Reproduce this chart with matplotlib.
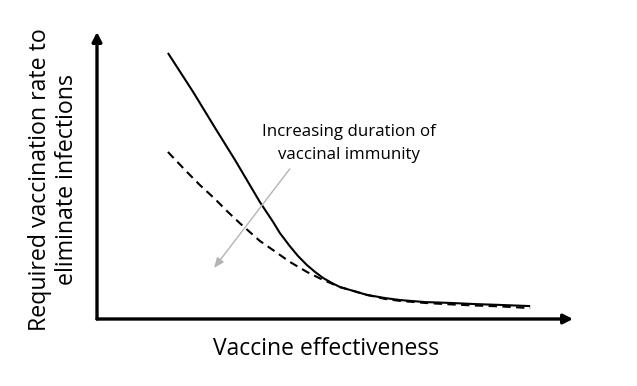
import numpy as np
import matplotlib
matplotlib.use("Agg")
import matplotlib.pyplot as plt

plt.rcParams['font.family'] = ['Open Sans', 'DejaVu Sans']

# curve shapes (fraction of axis length)
solid_x = [0.149, 0.202, 0.248, 0.290, 0.321, 0.342, 0.370, 0.384, 0.405, 0.422, 0.441, 0.458,
           0.475, 0.494, 0.511, 0.532, 0.567, 0.605, 0.637, 0.689, 0.742, 0.794, 0.847, 0.910]
solid_y = [0.927, 0.791, 0.666, 0.554, 0.467, 0.408, 0.338, 0.300, 0.254, 0.220, 0.188, 0.164,
           0.143, 0.125, 0.111, 0.101, 0.084, 0.073, 0.066, 0.059, 0.056, 0.052, 0.049, 0.045]
dash_x = [0.149, 0.185, 0.216, 0.248, 0.275, 0.300, 0.321, 0.342, 0.370, 0.405, 0.441,
          0.475, 0.511, 0.532, 0.567, 0.605, 0.637, 0.689, 0.742, 0.794, 0.847, 0.910]
dash_y = [0.582, 0.519, 0.467, 0.418, 0.373, 0.334, 0.303, 0.272, 0.240, 0.199, 0.164,
          0.136, 0.111, 0.101, 0.084, 0.070, 0.063, 0.056, 0.051, 0.047, 0.044, 0.038]

fig = plt.figure(figsize=(6.37, 3.86), dpi=100)
ax = fig.add_axes([97 / 637, 67 / 386, 476 / 637, 287 / 386])
ax.set_xlim(0, 1)
ax.set_ylim(0, 1)
for s in ax.spines.values():
    s.set_visible(False)
ax.set_xticks([])
ax.set_yticks([])

ax.plot(solid_x, solid_y, color='black', lw=1.5, solid_capstyle='butt')
ax.plot(dash_x, dash_y, color='black', lw=1.5, ls=(0, (4, 2.6)))

# axis arrows
arrow_kw = dict(arrowstyle='-|>,head_length=0.55,head_width=0.28',
                color='black', lw=2.4, shrinkA=0, shrinkB=0)
ax.annotate('', xy=(1.0, 0), xytext=(0, 0), xycoords='axes fraction',
            arrowprops=arrow_kw, annotation_clip=False)
ax.annotate('', xy=(0, 1.0), xytext=(0, 0), xycoords='axes fraction',
            arrowprops=arrow_kw, annotation_clip=False)

# grey arrow
ax.annotate('', xy=(0.246, 0.178), xytext=(0.405, 0.523),
            arrowprops=dict(arrowstyle='-|>,head_length=0.6,head_width=0.25',
                            color='#b4b4b4', lw=1.0, shrinkA=0, shrinkB=0))

fig.text(349 / 637, 1 - 136 / 386, 'Increasing duration of', ha='center',
         va='baseline', fontsize=12.2)
fig.text(349 / 637, 1 - 159 / 386, 'vaccinal immunity', ha='center',
         va='baseline', fontsize=12.2)

fig.text(326 / 637, 1 - 355 / 386, 'Vaccine effectiveness', ha='center',
         va='baseline', fontsize=16.5)
fig.text(46 / 637, 1 - 179.5 / 386, 'Required vaccination rate to', ha='center',
         va='baseline', rotation=90, rotation_mode='anchor', fontsize=16.7)
fig.text(73 / 637, 1 - 179.5 / 386, 'eliminate infections', ha='center',
         va='baseline', rotation=90, rotation_mode='anchor', fontsize=16.7)

fig.savefig('out.png', dpi=100)
